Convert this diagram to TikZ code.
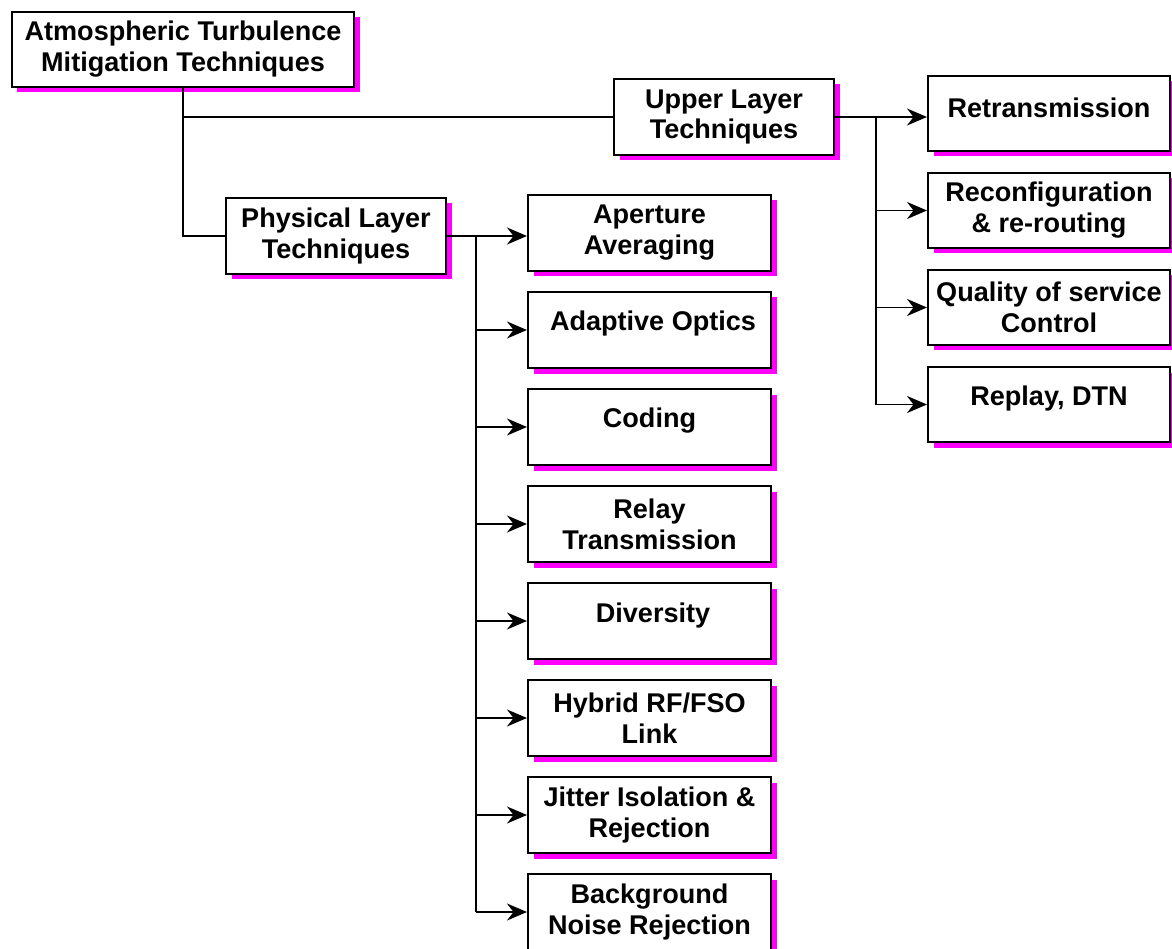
\documentclass[tikz,border=0pt]{standalone}
\usepackage{fontspec}
\setmainfont{Liberation Sans}
\usetikzlibrary{arrows.meta,shadows}
\definecolor{shadowmag}{RGB}{255,0,255}
\begin{document}
\begin{tikzpicture}[x=0.02cm,y=-0.02cm,
  lbl/.style={align=center, inner sep=0pt, font=\fontsize{15.4pt}{17.6pt}\selectfont\bfseries},
  box/.style={lbl, draw=black, line width=1.15pt, fill=white,
    drop shadow={fill=shadowmag, opacity=1, shadow xshift=0.11cm, shadow yshift=-0.11cm}},
  leftbox/.style={box, minimum width=243*0.02cm, minimum height=76*0.02cm},
  rightbox/.style={box, minimum width=242*0.02cm, minimum height=75*0.02cm},
  link/.style={line width=0.95pt, draw=black},
  arr/.style={link, -{Stealth[length=0.4cm, width=0.34cm, inset=0.13cm]}},
  lift/.style={yshift=0.12cm}
]
\useasboundingbox (0,0) rectangle (1172,949);

% root and the two layer groups
\node[box, minimum width=342*0.02cm, minimum height=75*0.02cm] (root) at (183,49.5)
  {Atmospheric Turbulence\\Mitigation Techniques};
\node[box, minimum width=220*0.02cm, minimum height=76*0.02cm] (upper) at (724,117)
  {Upper Layer\\Techniques};
\node[box, minimum width=220*0.02cm, minimum height=76*0.02cm] (phys) at (336,236)
  {Physical Layer\\Techniques};

% physical layer techniques
\node[leftbox] (ap) at (649.5,233) {Aperture\\Averaging};
\node[leftbox] (ao) at (649.5,330) {};
\node[lbl] (aot) at ([lift,xshift=0.07cm]ao.center) {Adaptive Optics};
\node[leftbox] (cod) at (649.5,427) {};
\node[lbl] (codt) at ([lift]cod.center) {Coding};
\node[leftbox] (rel) at (649.5,524) {Relay\\Transmission};
\node[leftbox] (div) at (649.5,621) {};
\node[lbl] (divt) at ([lift,xshift=0.07cm]div.center) {Diversity};
\node[leftbox] (hyb) at (649.5,718) {Hybrid RF/FSO\\Link};
\node[leftbox] (jit) at (649.5,815) {Jitter Isolation \&\\Rejection};
\node[leftbox] (bgn) at (649.5,912) {Background\\Noise Rejection};

% upper layer techniques
\node[rightbox] (ret) at (1049,113.5) {};
\node[lbl] (rett) at ([lift]ret.center) {Retransmission};
\node[rightbox] (rec) at (1049,210.5) {Reconfiguration\\\& re-routing};
\node[rightbox] (qos) at (1049,307.5) {Quality of service\\Control};
\node[rightbox] (rep) at (1049,404.5) {};
\node[lbl] (rept) at ([lift]rep.center) {Replay, DTN};

% root to layer groups
\draw[link] (root.south) |- (phys.west);
\draw[link] (root.south |- upper.west) -- (upper.west);

% physical layer bus
\coordinate (pbus) at (476,236);
\draw[arr] (phys.east) -- (phys.east -| ap.west);
\draw[link] (pbus) -- (pbus |- bgn.west);
\foreach \t in {ao,cod,rel,div,hyb,jit,bgn}
  \draw[arr] (pbus |- \t.west) -- (\t.west);

% upper layer bus
\coordinate (ubus) at (876,117);
\draw[arr] (upper.east) -- (upper.east -| ret.west);
\draw[link] (ubus) -- (ubus |- rep.west);
\foreach \t in {rec,qos,rep}
  \draw[arr] (ubus |- \t.west) -- (\t.west);
\end{tikzpicture}
\end{document}
